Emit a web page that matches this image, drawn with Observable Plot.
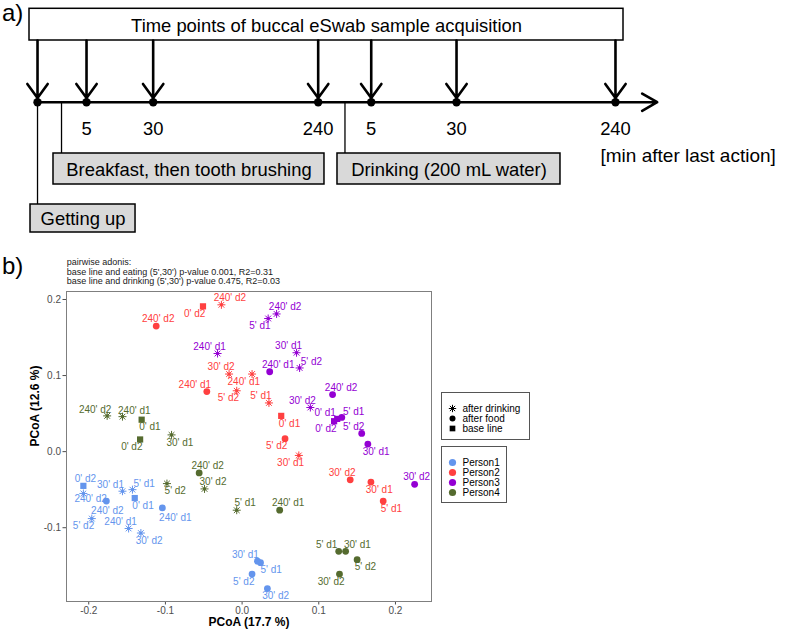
<!DOCTYPE html>
<html>
<head>
<meta charset="utf-8">
<script src="https://cdn.jsdelivr.net/npm/d3@7"></script>
<script src="https://cdn.jsdelivr.net/npm/@observablehq/plot@0.6"></script>
<style>
  body { margin: 0; background: #fff; font-family: "Liberation Sans", Arial, Helvetica, sans-serif; }
  #root { position: relative; width: 794px; height: 631px; overflow: hidden; background: #fff; }
  .panel-tag { position: absolute; font-size: 24px; line-height: 24px; color: #000; }
  .subtitle { position: absolute; font-size: 9px; line-height: 9.5px; color: #1a1a1a; white-space: nowrap; }
  [aria-label="unit-text"] text { word-spacing: 4px; }
</style>
</head>
<body>
<div id="root"></div>
<script>
// ---------------- DATA ----------------
// Panel a) timeline
const headerText = "Time points of buccal eSwab sample acquisition";
const sampleTickLabels = ["", "5", "30", "240", "5", "30", "240"];
const actionLabels = ["Getting up", "Breakfast, then tooth brushing", "Drinking (200 mL water)"];
const unitText = "[min after last action]";

// Panel b) PCoA
const subtitleLines = [
  "pairwise adonis:",
  "base line and eating (5',30') p-value 0.001, R2=0.31",
  "base line and drinking (5',30') p-value 0.475, R2=0.03"
];
const persons = ["Person1", "Person2", "Person3", "Person4"];
const personColors = ["#6495ED", "#FF4040", "#9400D3", "#556B2F"];
const conditions = ["after drinking", "after food", "base line"];
const xTicks = [-0.2, -0.1, 0.0, 0.1, 0.2];
const yTicks = [-0.1, 0.0, 0.1, 0.2];
const xTitle = "PCoA (17.7 %)";
const yTitle = "PCoA (12.6 %)";

const sampleNames = ["0' d1", "0' d2", "5' d1", "5' d2", "30' d1", "30' d2", "240' d1", "240' d2",
                     "5' d1", "5' d2", "30' d1", "30' d2", "240' d1", "240' d2"];
const sampleCondition = ["base line", "base line",
  "after drinking", "after drinking", "after drinking", "after drinking", "after drinking", "after drinking",
  "after food", "after food", "after food", "after food", "after food", "after food"];

const pc1Person1 = [-0.140, -0.207, -0.143, -0.196, -0.156, -0.132, -0.148, -0.207, 0.024, 0.013, 0.020, 0.033, -0.104, -0.177];
const pc2Person1 = [-0.061, -0.045, -0.050, -0.088, -0.052, -0.107, -0.101, -0.055, -0.146, -0.161, -0.144, -0.180, -0.074, -0.065];
const pc1Person2 = [0.051, -0.051, 0.035, -0.007, 0.074, -0.017, 0.013, -0.027, 0.184, 0.056, 0.168, 0.141, -0.046, -0.112];
const pc2Person2 = [0.047, 0.191, 0.064, 0.080, -0.005, 0.102, 0.102, 0.193, -0.065, 0.017, -0.040, -0.037, 0.079, 0.165];
const pc1Person3 = [0.124, 0.120, 0.034, 0.075, 0.071, 0.089, -0.032, 0.045, 0.130, 0.156, 0.164, 0.225, 0.036, 0.118];
const pc2Person3 = [0.043, 0.040, 0.175, 0.110, 0.130, 0.058, 0.129, 0.181, 0.045, 0.024, 0.010, -0.043, 0.105, 0.075];
const pc1Person4 = [-0.131, -0.133, -0.007, -0.098, -0.092, -0.049, -0.156, -0.176, 0.126, 0.150, 0.135, 0.127, 0.049, -0.056];
const pc2Person4 = [0.042, 0.016, -0.077, -0.042, 0.022, -0.049, 0.046, 0.047, -0.131, -0.142, -0.131, -0.161, -0.077, -0.028];

// label side hints (compass direction of each label relative to its point)
const sidePerson1 = ["SE", "N", "NEE", "SW", "NWW", "SE", "NW", "ESE", "SEE", "SW", "NWW", "SE", "SEfar", "S"];
const sidePerson2 = ["SE", "SW", "NW", "SW", "SW", "NW", "SW", "NE", "SE", "SW", "SE", "NW", "NWW", "N"];
const sidePerson3 = ["NWW", "SW", "SW", "NEE", "NW", "NW", "NW", "NE", "NEE", "NW", "SE", "N", "NE", "NE"];
const sidePerson4 = ["SE", "SW", "NE", "SE", "SE", "NE", "NEE", "NWW", "NWW", "SE", "NEE", "SW", "NE", "NE"];

// ---------------- BUILD ----------------
const FONT = "'Liberation Sans', Arial, Helvetica, sans-serif";
const root = document.getElementById("root");
function place(el, left, top) {
  el.style.position = "absolute";
  el.style.left = left + "px";
  el.style.top = top + "px";
  root.appendChild(el);
  return el;
}

// ---- Panel a) schematic layout (diagram units: x 0..100 spans the header box) ----
const sampleX = [1.35, 9.60, 20.82, 48.60, 57.53, 71.89, 98.65];
const actionX = [1.35, 5.39, 53.11];
const actionBoxX = [[0.17, 17.85], [4.04, 49.66], [51.85, 89.39]];
const actionBoxY = [[204, 232], [153, 184], [153, 184]];
const timelineY = 101.7, timelineEnd = 105.67;
const sampleIdx = d3.range(sampleX.length);
const actionIdx = d3.range(actionLabels.length);
const FS = 18.4;

const timeline = Plot.plot({
  width: 794, height: 240, margin: 0,
  x: {domain: [0, 100], range: [29, 623], axis: null},
  y: {domain: [0, 240], range: [0, 240], axis: null},
  style: {fontFamily: FONT, background: "transparent", overflow: "visible", color: "black"},
  marks: [
    Plot.link(actionIdx, {x1: i => actionX[i], x2: i => actionX[i], y1: () => timelineY, y2: i => actionBoxY[i][0], stroke: "black", strokeWidth: 1.3}),
    Plot.rect(actionIdx, {x1: i => actionBoxX[i][0], x2: i => actionBoxX[i][1], y1: i => actionBoxY[i][0], y2: i => actionBoxY[i][1], fill: "#d9d9d9", stroke: "black", strokeWidth: 1.5}),
    Plot.text(actionIdx, {x: i => (actionBoxX[i][0] + actionBoxX[i][1]) / 2, y: i => (actionBoxY[i][0] + actionBoxY[i][1]) / 2 + 1, text: i => actionLabels[i], fontSize: FS, fill: "black"}),
    Plot.rect([headerText], {x1: () => 0, x2: () => 100, y1: () => 8.3, y2: () => 40, fill: "white", stroke: "black", strokeWidth: 1.5}),
    Plot.text([headerText], {x: () => 50, y: () => 25.6, text: d => d, fontSize: FS, fill: "black"}),
    Plot.arrow(sampleIdx, {x1: i => sampleX[i], x2: i => sampleX[i], y1: () => 40, y2: () => 97.5, stroke: "black", strokeWidth: 2.6, headLength: 10, headAngle: 72}),
    Plot.arrow([0], {x1: () => sampleX[0], x2: () => timelineEnd, y1: () => timelineY, y2: () => timelineY, stroke: "black", strokeWidth: 2.6, headLength: 10, headAngle: 60}),
    Plot.dot(sampleIdx, {x: i => sampleX[i], y: () => timelineY, r: 4.2, fill: "black"}),
    Plot.text(sampleIdx, {x: i => sampleX[i], y: () => 129, text: i => sampleTickLabels[i], fontSize: FS, fill: "black"}),
    Plot.text([unitText], {x: () => 96.13, y: () => 155.8, text: d => d, textAnchor: "start", fontSize: 19, fill: "black", ariaLabel: "unit-text"})
  ]
});
place(timeline, 0, 0);

// ---- Panel b) scatter ----
const pc1 = [pc1Person1, pc1Person2, pc1Person3, pc1Person4];
const pc2 = [pc2Person1, pc2Person2, pc2Person3, pc2Person4];
const sides = [sidePerson1, sidePerson2, sidePerson3, sidePerson4];
const rows = persons.flatMap((p, i) => sampleNames.map((lab, j) => ({
  person: p, label: lab, condition: sampleCondition[j], pc1: pc1[i][j], pc2: pc2[i][j], side: sides[i][j]
})));

const labelOffsets = {
  N: [2, -7.5], S: [1, 9.5], NE: [8.5, -7], NEE: [11.8, -6], NW: [-8, -7], NWW: [-12, -6.5],
  SE: [8.3, 7.5], ESE: [7.3, 5], SEE: [10.7, 6.7], SW: [-8.3, 7.3], SEfar: [13, 10]
};
const fmt = d => d.toFixed(1);

const byCond = c => rows.filter(d => d.condition === c);
const drink = byCond("after drinking"), food = byCond("after food"), base = byCond("base line");

const scatter = Plot.plot({
  width: 440, height: 350,
  marginLeft: 66, marginRight: 9, marginTop: 10, marginBottom: 30,
  x: {domain: [-0.229, 0.247], ticks: xTicks, tickFormat: fmt, tickSize: 3.5, tickPadding: 1.5, label: null},
  y: {domain: [-0.197, 0.2105], ticks: yTicks, tickFormat: fmt, tickSize: 3.5, tickPadding: 2, label: null},
  color: {domain: persons, range: personColors},
  style: {fontFamily: FONT, fontSize: "10px", color: "#4d4d4d", background: "transparent", overflow: "visible"},
  marks: [
    Plot.frame({stroke: "#7f7f7f", strokeWidth: 1}),
    Plot.dot(base, {x: "pc1", y: "pc2", fill: "person", symbol: "square", r: 3.5}),
    Plot.dot(food, {x: "pc1", y: "pc2", fill: "person", r: 3.4}),
    Plot.dot(drink, {x: "pc1", y: "pc2", stroke: "person", symbol: "plus", r: 2.7, strokeWidth: 1}),
    Plot.dot(drink, {x: "pc1", y: "pc2", stroke: "person", symbol: "times", r: 2.7, strokeWidth: 1}),
    Plot.dot(drink, {x: "pc1", y: "pc2", fill: "person", r: 1.6}),
    ...Object.entries(labelOffsets).map(([side, [dx, dy]]) =>
      Plot.text(rows.filter(d => d.side === side), {x: "pc1", y: "pc2", text: "label", fill: "person", dx, dy, fontSize: 10})
    ),
    Plot.text([xTitle], {frameAnchor: "bottom", dy: 24.5, text: d => d, fontWeight: "bold", fontSize: 12, fill: "black"}),
    Plot.text([yTitle], {frameAnchor: "left", dx: -31, rotate: -90, text: d => d, fontWeight: "bold", fontSize: 12, fill: "black"})
  ]
});
place(scatter, 0, 281);

// ---- Legends ----
const legendShape = Plot.plot({
  width: 87, height: 45.5, marginTop: 14.2, marginBottom: 10.3, marginLeft: 0, marginRight: 0,
  x: {axis: null}, y: {type: "point", domain: conditions, padding: 0, axis: null},
  style: {fontFamily: FONT, background: "white", overflow: "visible", border: "1px solid #555", boxSizing: "content-box"},
  marks: [
    Plot.dot([conditions[0]], {y: d => d, frameAnchor: "left", dx: 10, symbol: "plus", r: 2.5, stroke: "black", strokeWidth: 1}),
    Plot.dot([conditions[0]], {y: d => d, frameAnchor: "left", dx: 10, symbol: "times", r: 2.5, stroke: "black", strokeWidth: 1}),
    Plot.dot([conditions[0]], {y: d => d, frameAnchor: "left", dx: 10, r: 1.4, fill: "black"}),
    Plot.dot([conditions[1]], {y: d => d, frameAnchor: "left", dx: 10, r: 3, fill: "black"}),
    Plot.dot([conditions[2]], {y: d => d, frameAnchor: "left", dx: 10, symbol: "square", r: 3.2, fill: "black"}),
    Plot.text(conditions, {y: d => d, frameAnchor: "left", dx: 20, text: d => d, textAnchor: "start", fontSize: 10, fill: "black"})
  ]
});
place(legendShape, 441, 392);

const legendColor = Plot.plot({
  width: 64, height: 55, marginTop: 14, marginBottom: 9.5, marginLeft: 0, marginRight: 0,
  x: {axis: null}, y: {type: "point", domain: persons, padding: 0, axis: null},
  color: {domain: persons, range: personColors},
  style: {fontFamily: FONT, background: "white", overflow: "visible", border: "1px solid #555", boxSizing: "content-box"},
  marks: [
    Plot.dot(persons, {y: d => d, frameAnchor: "left", dx: 10, r: 3.6, fill: d => d}),
    Plot.text(persons, {y: d => d, frameAnchor: "left", dx: 20, text: d => d, textAnchor: "start", fontSize: 10, fill: "black"})
  ]
});
place(legendColor, 441, 446);

// ---- Panel tags & subtitle ----
const tagA = document.createElement("div");
tagA.className = "panel-tag"; tagA.textContent = "a)";
place(tagA, 2, 1);
const tagB = document.createElement("div");
tagB.className = "panel-tag"; tagB.textContent = "b)";
place(tagB, 2, 254);
const sub = document.createElement("div");
sub.className = "subtitle";
subtitleLines.forEach(t => { const l = document.createElement("div"); l.textContent = t; sub.appendChild(l); });
place(sub, 66.7, 258);
</script>
</body>
</html>
